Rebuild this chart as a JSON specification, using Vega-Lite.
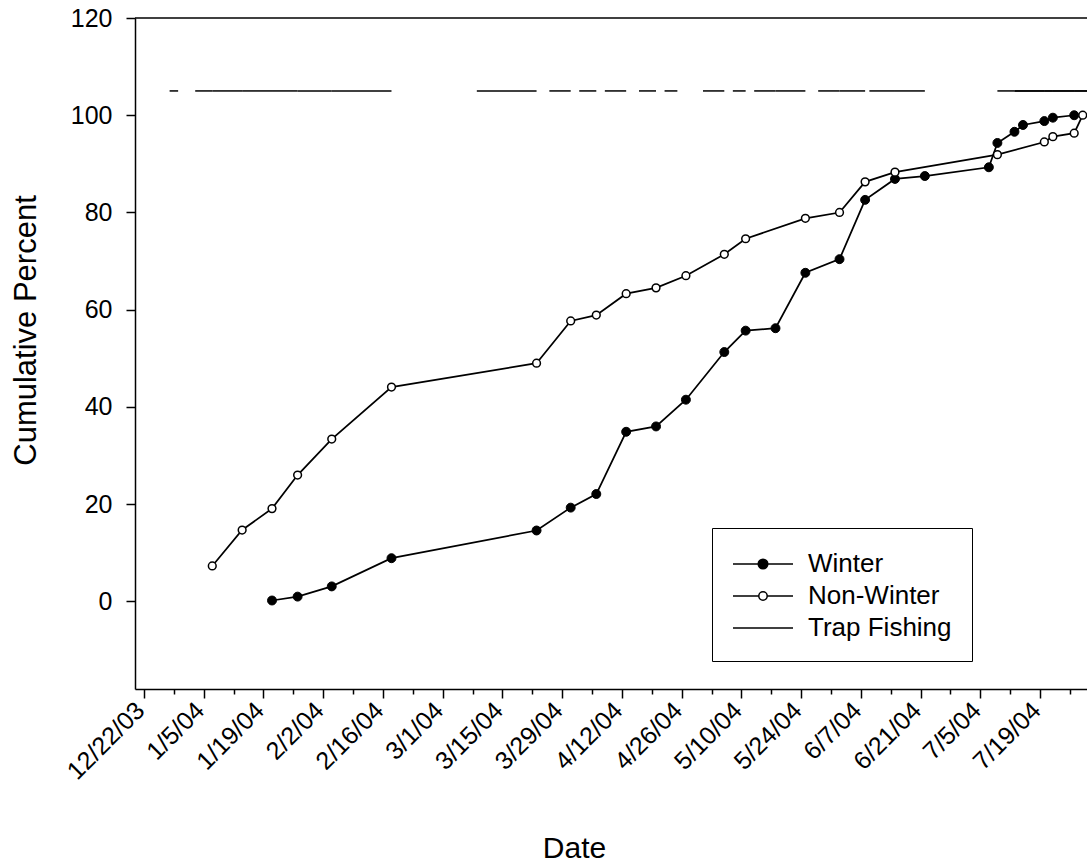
{
  "$schema": "https://vega.github.io/schema/vega-lite/v6.json",
  "width": 952,
  "height": 671,
  "autosize": {"type": "none"},
  "padding": {"left": 135, "top": 18, "right": 0, "bottom": 176},
  "background": "white",
  "config": {
    "view": {"stroke": null},
    "font": "Liberation Sans",
    "axis": {"labelFont": "Liberation Sans", "titleFont": "Liberation Sans", "labelColor": "black", "titleColor": "black", "titleFontWeight": "normal", "grid": false}
  },
  "resolve": {"axis": {"x": "independent"}},
  "datasets": {
    "cumulative": [
      {"series": "Winter", "date": "2004-01-21", "pct": 0.2},
      {"series": "Winter", "date": "2004-01-27", "pct": 1.0},
      {"series": "Winter", "date": "2004-02-04", "pct": 3.1},
      {"series": "Winter", "date": "2004-02-18", "pct": 8.9},
      {"series": "Winter", "date": "2004-03-23", "pct": 14.6},
      {"series": "Winter", "date": "2004-03-31", "pct": 19.3},
      {"series": "Winter", "date": "2004-04-06", "pct": 22.1},
      {"series": "Winter", "date": "2004-04-13", "pct": 34.9},
      {"series": "Winter", "date": "2004-04-20", "pct": 36.0},
      {"series": "Winter", "date": "2004-04-27", "pct": 41.5},
      {"series": "Winter", "date": "2004-05-06", "pct": 51.3},
      {"series": "Winter", "date": "2004-05-11", "pct": 55.7},
      {"series": "Winter", "date": "2004-05-18", "pct": 56.2},
      {"series": "Winter", "date": "2004-05-25", "pct": 67.6},
      {"series": "Winter", "date": "2004-06-02", "pct": 70.4},
      {"series": "Winter", "date": "2004-06-08", "pct": 82.6},
      {"series": "Winter", "date": "2004-06-15", "pct": 86.9},
      {"series": "Winter", "date": "2004-06-22", "pct": 87.5},
      {"series": "Winter", "date": "2004-07-07", "pct": 89.3},
      {"series": "Winter", "date": "2004-07-09", "pct": 94.3},
      {"series": "Winter", "date": "2004-07-13", "pct": 96.6},
      {"series": "Winter", "date": "2004-07-15", "pct": 98.0},
      {"series": "Winter", "date": "2004-07-20", "pct": 98.8},
      {"series": "Winter", "date": "2004-07-22", "pct": 99.5},
      {"series": "Winter", "date": "2004-07-27", "pct": 100.0},
      {"series": "Non-Winter", "date": "2004-01-07", "pct": 7.3},
      {"series": "Non-Winter", "date": "2004-01-14", "pct": 14.7},
      {"series": "Non-Winter", "date": "2004-01-21", "pct": 19.1},
      {"series": "Non-Winter", "date": "2004-01-27", "pct": 26.0},
      {"series": "Non-Winter", "date": "2004-02-04", "pct": 33.4},
      {"series": "Non-Winter", "date": "2004-02-18", "pct": 44.1},
      {"series": "Non-Winter", "date": "2004-03-23", "pct": 49.0},
      {"series": "Non-Winter", "date": "2004-03-31", "pct": 57.7},
      {"series": "Non-Winter", "date": "2004-04-06", "pct": 58.9},
      {"series": "Non-Winter", "date": "2004-04-13", "pct": 63.3},
      {"series": "Non-Winter", "date": "2004-04-20", "pct": 64.5},
      {"series": "Non-Winter", "date": "2004-04-27", "pct": 67.0},
      {"series": "Non-Winter", "date": "2004-05-06", "pct": 71.4},
      {"series": "Non-Winter", "date": "2004-05-11", "pct": 74.6},
      {"series": "Non-Winter", "date": "2004-05-25", "pct": 78.8},
      {"series": "Non-Winter", "date": "2004-06-02", "pct": 80.0},
      {"series": "Non-Winter", "date": "2004-06-08", "pct": 86.3},
      {"series": "Non-Winter", "date": "2004-06-15", "pct": 88.3},
      {"series": "Non-Winter", "date": "2004-07-09", "pct": 91.9},
      {"series": "Non-Winter", "date": "2004-07-20", "pct": 94.5},
      {"series": "Non-Winter", "date": "2004-07-22", "pct": 95.6},
      {"series": "Non-Winter", "date": "2004-07-27", "pct": 96.3},
      {"series": "Non-Winter", "date": "2004-07-29", "pct": 100.0}
    ],
    "trap": [
      {"start": "2003-12-28", "end": "2003-12-30"},
      {"start": "2004-01-03", "end": "2004-01-07"},
      {"start": "2004-01-07", "end": "2004-01-14"},
      {"start": "2004-01-14", "end": "2004-01-21"},
      {"start": "2004-01-21", "end": "2004-01-27"},
      {"start": "2004-01-27", "end": "2004-02-04"},
      {"start": "2004-02-04", "end": "2004-02-18"},
      {"start": "2004-03-09", "end": "2004-03-23"},
      {"start": "2004-03-26", "end": "2004-03-31"},
      {"start": "2004-04-02", "end": "2004-04-06"},
      {"start": "2004-04-08", "end": "2004-04-13"},
      {"start": "2004-04-16", "end": "2004-04-20"},
      {"start": "2004-04-22", "end": "2004-04-25"},
      {"start": "2004-05-01", "end": "2004-05-06"},
      {"start": "2004-05-08", "end": "2004-05-11"},
      {"start": "2004-05-13", "end": "2004-05-18"},
      {"start": "2004-05-18", "end": "2004-05-25"},
      {"start": "2004-05-28", "end": "2004-06-02"},
      {"start": "2004-06-02", "end": "2004-06-08"},
      {"start": "2004-06-09", "end": "2004-06-15"},
      {"start": "2004-06-15", "end": "2004-06-22"},
      {"start": "2004-07-09", "end": "2004-07-13"},
      {"start": "2004-07-13", "end": "2004-07-15"},
      {"start": "2004-07-15", "end": "2004-07-20"},
      {"start": "2004-07-20", "end": "2004-07-22"},
      {"start": "2004-07-22", "end": "2004-07-27"},
      {"start": "2004-07-27", "end": "2004-07-31"},
      {"start": "2004-07-13", "end": "2004-07-31"}
    ]
  },
  "layer": [
    {
      "data": {"name": "cumulative"},
      "mark": {"type": "line", "stroke": "black", "strokeWidth": 1.75},
      "encoding": {
        "x": {
          "field": "date", "type": "temporal",
          "scale": {"type": "utc", "domain": [1071868982400, 1091145600000], "nice": false},
          "axis": {
            "title": "Date",
            "orient": "bottom",
            "values": [1072051200000, 1073260800000, 1074470400000, 1075680000000, 1076889600000, 1078099200000, 1079308800000, 1080518400000, 1081728000000, 1082937600000, 1084147200000, 1085356800000, 1086566400000, 1087776000000, 1088985600000, 1090195200000],
            "format": "%-m/%-d/%y",
            "tickSize": 9,
            "tickWidth": 1.5,
            "tickColor": "black",
            "domainColor": "black",
            "domainWidth": 1.5,
            "labelAngle": -45,
            "labelAlign": "right",
            "labelBaseline": "middle",
            "labelPadding": 8,
            "labelOffset": -4,
            "labelFontSize": 25,
            "labelOverlap": false,
            "labelBound": false,
            "labelFlush": false,
            "titleFontSize": 30,
            "titleX": 439,
            "titleY": 168,
            "titleAlign": "center",
            "titleBaseline": "alphabetic"
          }
        },
        "y": {
          "field": "pct", "type": "quantitative",
          "scale": {"domain": [-18, 120], "nice": false, "zero": false},
          "axis": {
            "title": "Cumulative Percent",
            "orient": "left",
            "values": [0, 20, 40, 60, 80, 100, 120],
            "tickSize": 9,
            "tickWidth": 1.5,
            "tickColor": "black",
            "domainColor": "black",
            "domainWidth": 1.5,
            "labelFontSize": 25,
            "labelPadding": 14,
            "titleFontSize": 31,
            "titleX": -100,
            "titleY": 312,
            "titleAngle": -90,
            "titleAlign": "center",
            "titleBaseline": "alphabetic"
          }
        },
        "detail": {"field": "series", "type": "nominal"}
      }
    },
    {
      "data": {"values": [{}]},
      "mark": {"type": "rule", "stroke": "black", "strokeWidth": 1.5},
      "encoding": {"y": {"datum": 120, "type": "quantitative"}}
    },
    {
      "data": {"name": "trap"},
      "mark": {"type": "rule", "stroke": "black", "strokeWidth": 1.5, "clip": true},
      "encoding": {
        "x": {
          "field": "start", "type": "temporal",
          "axis": {
            "orient": "bottom",
            "values": [1072656000000, 1073865600000, 1075075200000, 1076284800000, 1077494400000, 1078704000000, 1079913600000, 1081123200000, 1082332800000, 1083542400000, 1084752000000, 1085961600000, 1087171200000, 1088380800000, 1089590400000, 1090800000000],
            "labels": false,
            "domain": false,
            "title": null,
            "tickSize": 5,
            "tickWidth": 1.5,
            "tickColor": "black"
          }
        },
        "x2": {"field": "end"},
        "y": {"datum": 105, "type": "quantitative"}
      }
    },
    {
      "data": {"name": "cumulative"},
      "transform": [{"filter": "datum.series == 'Winter'"}],
      "mark": {"type": "point", "shape": "circle", "filled": true, "fill": "black", "stroke": "black", "strokeWidth": 1, "size": 80, "opacity": 1},
      "encoding": {
        "x": {"field": "date", "type": "temporal", "axis": null},
        "y": {"field": "pct", "type": "quantitative"}
      }
    },
    {
      "data": {"name": "cumulative"},
      "transform": [{"filter": "datum.series == 'Non-Winter'"}],
      "mark": {"type": "point", "shape": "circle", "filled": true, "fill": "white", "stroke": "black", "strokeWidth": 1.5, "size": 60, "opacity": 1},
      "encoding": {
        "x": {"field": "date", "type": "temporal", "axis": null},
        "y": {"field": "pct", "type": "quantitative"}
      }
    },
    {
      "data": {"values": []},
      "mark": {"type": "point", "filled": true, "stroke": "black", "strokeWidth": 1.5, "opacity": 1},
      "encoding": {
        "shape": {
          "field": "series", "type": "nominal",
          "scale": {
            "domain": ["Winter", "Non-Winter", "Trap Fishing"],
            "range": [
              "M-2,0H-0.32M0.32,0H2M0.32,0A0.32,0.32,0,1,1,-0.32,0A0.32,0.32,0,1,1,0.32,0Z",
              "M-2,0H-0.28M0.28,0H2M0.28,0A0.28,0.28,0,1,1,-0.28,0A0.28,0.28,0,1,1,0.28,0Z",
              "M-2,0H2"
            ]
          },
          "legend": {"orient": "none", "legendX": 577, "legendY": 510, "title": null, "strokeColor": "black", "fillColor": "white", "padding": 20, "symbolSize": 900, "symbolOffset": 15, "labelFontSize": 26, "labelFont": "Liberation Sans", "labelColor": "black", "labelOffset": 29, "rowPadding": 3, "encode": {"symbols": {"update": {"stroke": {"value": "black"}, "strokeWidth": {"value": 1.5}, "opacity": {"value": 1}}}}}
        },
        "fill": {
          "field": "series", "type": "nominal",
          "scale": {"domain": ["Winter", "Non-Winter", "Trap Fishing"], "range": ["black", "white", "white"]},
          "legend": {"orient": "none", "legendX": 577, "legendY": 510, "title": null, "strokeColor": "black", "fillColor": "white", "padding": 20, "symbolSize": 900, "symbolOffset": 15, "labelFontSize": 26, "labelFont": "Liberation Sans", "labelColor": "black", "labelOffset": 29, "rowPadding": 3, "encode": {"symbols": {"update": {"stroke": {"value": "black"}, "strokeWidth": {"value": 1.5}, "opacity": {"value": 1}}}}}
        }
      }
    }
  ]
}
